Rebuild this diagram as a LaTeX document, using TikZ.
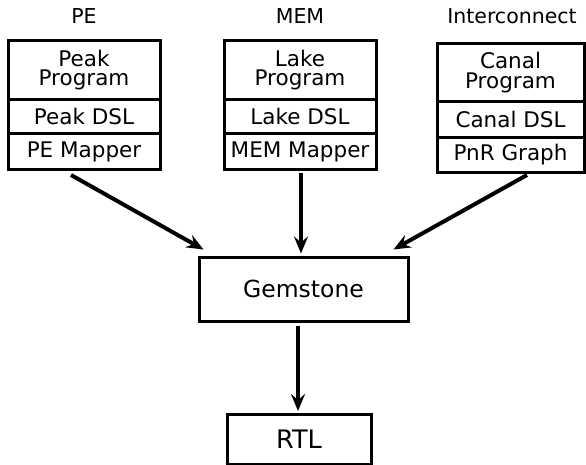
\documentclass[tikz,border=0pt]{standalone}
\usepackage{fontspec}
\setmainfont{DejaVu Sans}
\usetikzlibrary{arrows.meta,calc}
\begin{document}
\begin{tikzpicture}[x=1pt,y=-1pt,
  cell/.style={draw=black,line width=3pt,rectangle,inner sep=0pt,anchor=north,
    align=center,font=\fontsize{21.5}{19.5}\selectfont},
  head/.style={anchor=base,inner sep=0pt,font=\fontsize{20.5}{20}\selectfont},
  arr/.style={line width=4pt,-{Stealth[length=17pt,width=14pt,inset=6pt]}},
  bigbox/.style={draw=black,line width=3pt,rectangle,inner sep=0pt}]
\useasboundingbox (0,0) rectangle (586,465);

% column headings
\node[head] (hpe)  at (84,24)  {PE};
\node[head] (hmem) at (300,24) {MEM};
\node[head] (hic)  at (512,24) {Interconnect};

% PE stack
\node[cell,minimum width=152pt,minimum height=59pt] (pe1) at (84,39) {Peak\\Program};
\node[cell,minimum width=152pt,minimum height=34pt] (pe2) at (84,98) {Peak DSL};
\node[cell,minimum width=152pt,minimum height=36pt] (pe3) at (84,132) {PE Mapper};

% MEM stack
\node[cell,minimum width=152pt,minimum height=59pt] (mem1) at (300,39) {Lake\\Program};
\node[cell,minimum width=152pt,minimum height=34pt] (mem2) at (300,98) {Lake DSL};
\node[cell,minimum width=152pt,minimum height=36pt] (mem3) at (300,132) {MEM Mapper};

% Interconnect stack
\node[cell,minimum width=147pt,minimum height=58pt] (ic1) at (510.5,42) {Canal\\Program};
\node[cell,minimum width=147pt,minimum height=36pt] (ic2) at (510.5,100) {Canal DSL};
\node[cell,minimum width=147pt,minimum height=35pt] (ic3) at (510.5,136) {PnR Graph};

% Gemstone and RTL
\node[bigbox,minimum width=209pt,minimum height=64pt,font=\fontsize{23.5}{23}\selectfont]
  (gem) at (303.5,289) {Gemstone};
\node[bigbox,minimum width=144pt,minimum height=50pt,font=\fontsize{25.5}{25}\selectfont]
  (rtl) at (299,439.5) {RTL};

% connectors
\draw[arr] ([xshift=-13pt,yshift=-4pt]pe3.south) -- ([xshift=6pt,yshift=6pt]gem.north west);
\draw[arr,shorten <=2pt,shorten >=2pt] ([xshift=1pt]mem3.south) -- ([xshift=1pt]mem3.south |- gem.north);
\draw[arr] ([xshift=16.5pt,yshift=-1pt]ic3.south) -- ([xshift=-16pt,yshift=6pt]gem.north east);
\draw[arr,shorten <=3pt,shorten >=2pt] ([xshift=-1pt]rtl.north |- gem.south) -- ([xshift=-1pt]rtl.north);
\end{tikzpicture}
\end{document}
